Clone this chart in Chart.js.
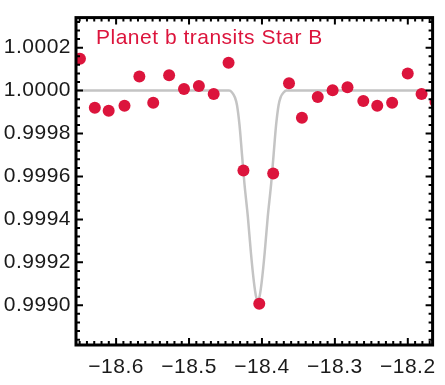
<!DOCTYPE html>
<html>
<head>
<meta charset="utf-8">
<script src="https://cdn.jsdelivr.net/npm/chart.js@4.4.0/dist/chart.umd.min.js"></script>
<style>
  html, body { margin: 0; padding: 0; background: #fff; }
  canvas { display: block; }
</style>
</head>
<body>
<canvas id="lightcurve" width="445" height="385"></canvas>
<script>
// relative flux of Star B, binned points
const obsTime = [-18.6496, -18.6292, -18.6102, -18.5885, -18.5681, -18.5491, -18.5273, -18.5069,
  -18.4865, -18.4662, -18.4458, -18.4254, -18.4037, -18.3846, -18.3629, -18.3452, -18.3235,
  -18.3031, -18.2827, -18.2610, -18.2419, -18.2215, -18.2001, -18.1811, -18.1620];
const obsFlux = [1.000148, 0.999920, 0.999906, 0.999929, 1.000066, 0.999943, 1.000071, 1.000007,
  1.000021, 0.999984, 1.000130, 0.999628, 0.999007, 0.999614, 1.000034, 0.999874, 0.999970,
  1.000002, 1.000016, 0.999952, 0.999929, 0.999943, 1.000080, 0.999984, 0.999947];

// transit model for planet b
const modelTime = [-18.66, -18.4505, -18.4451, -18.4410, -18.4370, -18.4342, -18.4308, -18.4274,
  -18.4240, -18.4193, -18.4152, -18.4111, -18.4084, -18.4057, -18.4030, -18.4003, -18.3962,
  -18.3921, -18.3874, -18.3840, -18.3806, -18.3772, -18.3745, -18.3704, -18.3663, -18.3609, -18.16];
const modelFlux = [1.0, 1.0, 1.0, 0.999991, 0.999968, 0.999932, 0.999840, 0.999703,
  0.999566, 0.999411, 0.999247, 0.999110, 0.999046, 0.999018, 0.999046, 0.999110, 0.999247,
  0.999411, 0.999566, 0.999703, 0.999840, 0.999932, 0.999968, 0.999991, 1.0, 1.0, 1.0];

const xTicks = [-18.6, -18.5, -18.4, -18.3, -18.2];
const yTicks = [0.9990, 0.9992, 0.9994, 0.9996, 0.9998, 1.0000, 1.0002];
const xRange = [-18.655, -18.166];
const yRange = [0.998815, 1.00034];
const xMinorStep = 0.01;
const yMinorStep = 0.00004;

const crimson = '#dc143c';
const label = 'Planet b transits Star B';

Chart.defaults.font.family = '"Liberation Sans", Arial, sans-serif';
Chart.defaults.font.size = 21;
Chart.defaults.color = '#1a1a1a';

function minorValues(min, max, step) {
  const out = [];
  for (let k = Math.ceil(min / step); k <= Math.floor(max / step); k++) {
    out.push(k * step);
  }
  return out;
}

// black box with inward ticks on all four sides, plus the in-plot label
const framePlugin = {
  id: 'frame',
  beforeDraw(chart) {
    chart.ctx.letterSpacing = '0.5px';
  },
  afterDraw(chart) {
    const ctx = chart.ctx;
    const a = chart.chartArea;
    const x = chart.scales.x;
    const y = chart.scales.y;
    ctx.save();
    ctx.strokeStyle = '#000';
    ctx.lineWidth = 2;
    ctx.beginPath();
    minorValues(x.min, x.max, xMinorStep).forEach(v => {
      const major = xTicks.some(t => Math.abs(t - v) < xMinorStep / 2);
      const len = major ? 7 : 4;
      const px = x.getPixelForValue(v);
      ctx.moveTo(px, a.bottom);
      ctx.lineTo(px, a.bottom - len);
      ctx.moveTo(px, a.top);
      ctx.lineTo(px, a.top + len);
    });
    minorValues(y.min, y.max, yMinorStep).forEach(v => {
      const major = yTicks.some(t => Math.abs(t - v) < yMinorStep / 2);
      const len = major ? 7 : 4;
      const py = y.getPixelForValue(v);
      ctx.moveTo(a.left, py);
      ctx.lineTo(a.left + len, py);
      ctx.moveTo(a.right, py);
      ctx.lineTo(a.right - len, py);
    });
    ctx.stroke();

    ctx.lineWidth = 3;
    ctx.strokeRect(a.left, a.top, a.right - a.left, a.bottom - a.top);

    ctx.fillStyle = crimson;
    ctx.font = '21px "Liberation Sans", Arial, sans-serif';
    ctx.textAlign = 'left';
    ctx.textBaseline = 'alphabetic';
    ctx.fillText(label, a.left + 20, a.top + 26);
    ctx.restore();
  }
};

new Chart(document.getElementById('lightcurve'), {
  type: 'scatter',
  data: {
    datasets: [
      {
        label: 'data',
        data: obsTime.map((t, i) => ({ x: t, y: obsFlux[i] })),
        backgroundColor: crimson,
        borderWidth: 0,
        pointRadius: 6,
        pointHoverRadius: 6,
        clip: 0,
        order: 1
      },
      {
        label: 'model',
        data: modelTime.map((t, i) => ({ x: t, y: modelFlux[i] })),
        showLine: true,
        borderColor: '#c4c4c4',
        borderWidth: 2.5,
        pointRadius: 0,
        cubicInterpolationMode: 'monotone',
        clip: 0,
        order: 2
      }
    ]
  },
  options: {
    responsive: false,
    animation: false,
    devicePixelRatio: 1,
    layout: { padding: { top: 11, right: 9, left: 0, bottom: 0 } },
    plugins: { legend: { display: false }, tooltip: { enabled: false } },
    scales: {
      x: {
        type: 'linear',
        min: xRange[0],
        max: xRange[1],
        grid: { display: false, drawTicks: false },
        border: { display: false },
        afterBuildTicks: s => { s.ticks = xTicks.map(v => ({ value: v })); },
        afterFit: s => { s.height = 40; },
        ticks: {
          padding: 10,
          maxRotation: 0,
          autoSkip: false,
          callback: v => '\u2212' + Math.abs(v).toFixed(1)
        }
      },
      y: {
        type: 'linear',
        min: yRange[0],
        max: yRange[1],
        grid: { display: false, drawTicks: false },
        border: { display: false },
        afterBuildTicks: s => { s.ticks = yTicks.map(v => ({ value: v })); },
        afterFit: s => { s.width = 76; },
        ticks: {
          padding: 5,
          autoSkip: false,
          callback: v => v.toFixed(4)
        }
      }
    }
  },
  plugins: [framePlugin]
});
</script>
</body>
</html>
